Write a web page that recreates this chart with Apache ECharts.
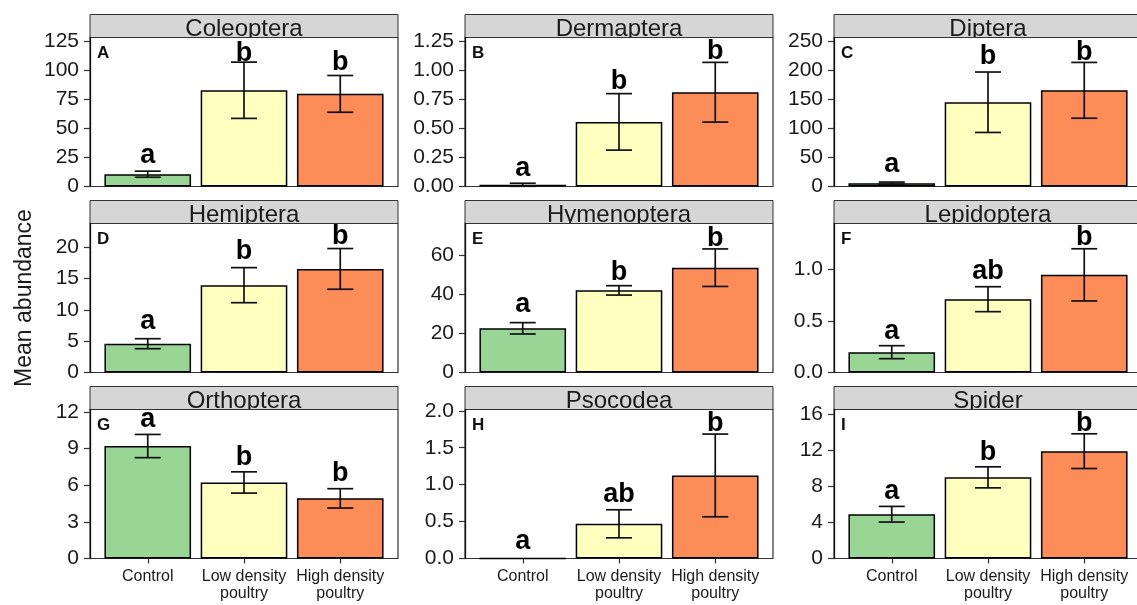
<!DOCTYPE html>
<html>
<head>
<meta charset="utf-8">
<script src="https://cdn.jsdelivr.net/npm/echarts@6.0.0/dist/echarts.min.js"></script>
<style>
  html, body { margin: 0; padding: 0; background: #ffffff; }
  #chart { width: 1137px; height: 605px; }
</style>
</head>
<body>
<div id="chart"></div>
<script>
// ---------------- DATA ----------------
const taxa = ['Coleoptera', 'Dermaptera', 'Diptera', 'Hemiptera', 'Hymenoptera', 'Lepidoptera', 'Orthoptera', 'Psocodea', 'Spider'];
const panelTags = ['A', 'B', 'C', 'D', 'E', 'F', 'G', 'H', 'I'];
const categories = ['Control', 'Low density\npoultry', 'High density\npoultry'];

const controlMean = [10.6, 0.015, 5.8, 4.6, 22.6, 0.197, 9.2, 0, 4.92];
const controlSE   = [2.6, 0.013, 1.8, 0.8, 2.9, 0.063, 0.95, 0, 0.87];
const lowMean     = [82.8, 0.556, 145, 13.95, 42.0, 0.711, 6.22, 0.47, 9.02];
const lowSE       = [24.2, 0.243, 52, 2.8, 2.4, 0.121, 0.87, 0.19, 1.17];
const highMean    = [79.7, 0.811, 165.5, 16.55, 53.6, 0.947, 4.92, 1.125, 11.93];
const highSE      = [15.8, 0.257, 48, 3.25, 9.6, 0.253, 0.79, 0.56, 1.93];

const controlLetters = ['a', 'a', 'a', 'a', 'a', 'a', 'a', 'a', 'a'];
const lowLetters     = ['b', 'b', 'b', 'b', 'b', 'ab', 'b', 'ab', 'b'];
const highLetters    = ['b', 'b', 'b', 'b', 'b', 'b', 'b', 'b', 'b'];

// letter baseline positions (data units)
const controlLetterY = [19.7, 0.081, 23.7, 6.81, 30.3, 0.316, 10.64, 0.113, 6.48];
const lowLetterY     = [107.1, 0.831, 208.4, 17.98, 46.9, 0.897, 7.56, 0.754, 10.81];
const highLetterY    = [99.6, 1.091, 216.5, 20.37, 64.2, 1.226, 6.27, 1.715, 14.07];

const yMax = [128.2, 1.282, 256.4, 23.8, 76.2, 1.445, 12.19, 2.018, 16.56];
const yTickLabels = [
  ['0', '25', '50', '75', '100', '125'],
  ['0.00', '0.25', '0.50', '0.75', '1.00', '1.25'],
  ['0', '50', '100', '150', '200', '250'],
  ['0', '5', '10', '15', '20'],
  ['0', '20', '40', '60'],
  ['0.0', '0.5', '1.0'],
  ['0', '3', '6', '9', '12'],
  ['0.0', '0.5', '1.0', '1.5', '2.0'],
  ['0', '4', '8', '12', '16']
];
const yTitle = 'Mean abundance';

// ---------------- STYLE / LAYOUT ----------------
const barColors = ['#99D594', '#FFFFBF', '#FC8D59'];
const FONT = '"Liberation Sans", Arial, Helvetica, sans-serif';
const colLeft = [90, 465, 834];
const rowTop = [37.5, 223.5, 409.5];
const panelW = 308, panelH = 149, stripH = 23;
const inset = panelW * 0.1 / 3.2;   // extra ggplot-like expansion beyond category band
const capHalf = 13;

const chart = echarts.init(document.getElementById('chart'), null, { renderer: 'canvas' });

const grids = [], xAxes = [], yAxes = [], series = [], graphics = [];

for (let i = 0; i < taxa.length; i++) {
  const row = Math.floor(i / 3), col = i % 3;
  const L = colLeft[col], T = rowTop[row];
  const tickVals = yTickLabels[i].map(parseFloat);
  const labs = yTickLabels[i];

  grids.push({ left: L + inset, top: T, width: panelW - 2 * inset, height: panelH, show: false });

  xAxes.push({
    type: 'category', gridIndex: i, data: categories, boundaryGap: true, z: 5,
    axisLine: { show: false },
    axisTick: { show: row === 2, length: 5, alignWithLabel: true, lineStyle: { color: '#333', width: 1.2 } },
    axisLabel: { show: row === 2, interval: 0, fontSize: 16, lineHeight: 17, margin: 10, color: '#1a1a1a', fontFamily: FONT }
  });

  yAxes.push({
    type: 'value', gridIndex: i, min: 0, max: yMax[i], offset: inset, z: 5,
    axisLine: { show: true, lineStyle: { color: '#111', width: 1.3 } },
    axisTick: { show: true, length: 6, customValues: tickVals, lineStyle: { color: '#333', width: 1.2 } },
    axisLabel: {
      customValues: tickVals, fontSize: 21, margin: 11, color: '#1a1a1a', fontFamily: FONT,
      formatter: function (v) {
        let best = 0, bd = Infinity;
        tickVals.forEach(function (t, k) { const d = Math.abs(t - v); if (d < bd) { bd = d; best = k; } });
        return labs[best];
      }
    },
    splitLine: { show: false }
  });

  const means = [controlMean[i], lowMean[i], highMean[i]];
  const ses = [controlSE[i], lowSE[i], highSE[i]];
  const letterY = [controlLetterY[i], lowLetterY[i], highLetterY[i]];
  const letters = [controlLetters[i], lowLetters[i], highLetters[i]];

  series.push({
    type: 'bar', xAxisIndex: i, yAxisIndex: i, barWidth: '90%', silent: true, z: 2,
    itemStyle: { borderColor: '#000', borderWidth: 1.5 },
    data: means.map(function (v, k) { return { value: v, itemStyle: { color: barColors[k] } }; })
  });

  series.push({
    type: 'custom', xAxisIndex: i, yAxisIndex: i, silent: true, z: 3,
    data: means.map(function (m, k) { return [k, m - ses[k], m + ses[k], letterY[k]]; }),
    renderItem: function (params, api) {
      const x = api.value(0);
      const pLo = api.coord([x, api.value(1)]);
      const pHi = api.coord([x, api.value(2)]);
      const pL = api.coord([x, api.value(3)]);
      const ls = { stroke: '#111', lineWidth: 1.7 };
      const children = [];
      if (Math.abs(pLo[1] - pHi[1]) > 0.5) {
        children.push({ type: 'line', shape: { x1: pLo[0], y1: pLo[1], x2: pHi[0], y2: pHi[1] }, style: ls });
        children.push({ type: 'line', shape: { x1: pHi[0] - capHalf, y1: pHi[1], x2: pHi[0] + capHalf, y2: pHi[1] }, style: ls });
        children.push({ type: 'line', shape: { x1: pLo[0] - capHalf, y1: pLo[1], x2: pLo[0] + capHalf, y2: pLo[1] }, style: ls });
      }
      children.push({
        type: 'text', x: pL[0], y: pL[1] + 5,
        style: { text: letters[params.dataIndex], font: 'bold 27px ' + FONT, fill: '#000', align: 'center', verticalAlign: 'bottom' }
      });
      return { type: 'group', children: children };
    }
  });

  // strip background + title
  graphics.push({ type: 'rect', z: 0, shape: { x: L, y: T - stripH, width: panelW, height: stripH },
    style: { fill: '#D6D6D6', stroke: '#333', lineWidth: 1 } });
  graphics.push({ type: 'text', z: 0, x: L + panelW / 2, y: T - 8.6,
    style: { text: taxa[i], font: '24px ' + FONT, fill: '#1a1a1a', align: 'center', verticalAlign: 'middle' } });
  // plot area (clips strip text descenders)
  graphics.push({ type: 'rect', z: 1, shape: { x: L, y: T, width: panelW, height: panelH },
    style: { fill: '#ffffff', stroke: '#333', lineWidth: 1.2 } });
  // panel tag
  graphics.push({ type: 'text', z: 4, x: L + 7, y: T + 16,
    style: { text: panelTags[i], font: 'bold 17px ' + FONT, fill: '#111', align: 'left', verticalAlign: 'middle' } });
}

graphics.push({ type: 'text', z: 4, x: 25, y: 298, rotation: Math.PI / 2,
  style: { text: yTitle, font: '23px ' + FONT, fill: '#1a1a1a', align: 'center', verticalAlign: 'middle' } });

chart.setOption({
  animation: false,
  backgroundColor: '#ffffff',
  textStyle: { fontFamily: FONT },
  grid: grids,
  xAxis: xAxes,
  yAxis: yAxes,
  series: series,
  graphic: { elements: graphics }
});
</script>
</body>
</html>
